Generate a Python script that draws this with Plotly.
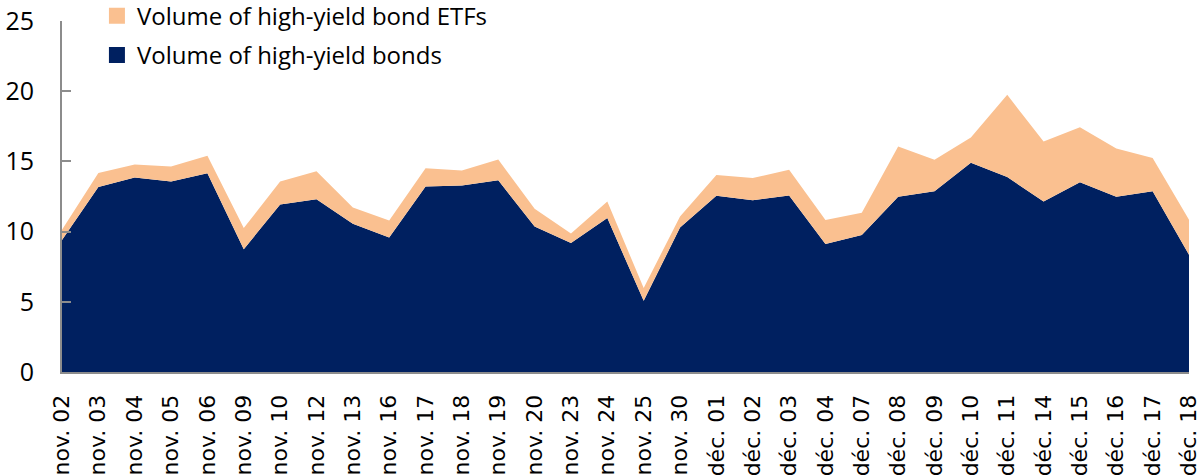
import plotly.graph_objects as go

dates = ["nov. 02", "nov. 03", "nov. 04", "nov. 05", "nov. 06", "nov. 09", "nov. 10", "nov. 12",
         "nov. 13", "nov. 16", "nov. 17", "nov. 18", "nov. 19", "nov. 20", "nov. 23", "nov. 24",
         "nov. 25", "nov. 30", "déc. 01", "déc. 02", "déc. 03", "déc. 04", "déc. 07", "déc. 08",
         "déc. 09", "déc. 10", "déc. 11", "déc. 14", "déc. 15", "déc. 16", "déc. 17", "déc. 18"]

# volumes
hy_bonds = [9.40, 13.17, 13.85, 13.57, 14.16, 8.75, 11.93, 12.31, 10.56, 9.58, 13.21, 13.28,
            13.66, 10.36, 9.18, 10.96, 5.07, 10.29, 12.55, 12.24, 12.57, 9.11, 9.75, 12.48,
            12.88, 14.90, 13.88, 12.14, 13.52, 12.48, 12.88, 8.35]
hy_etfs = [0.73, 1.01, 0.93, 1.07, 1.24, 1.50, 1.64, 1.99, 1.16, 1.21, 1.31, 1.07,
           1.47, 1.26, 0.69, 1.18, 0.91, 0.79, 1.49, 1.57, 1.83, 1.71, 1.59, 3.58,
           2.23, 1.80, 5.86, 4.27, 3.92, 3.44, 2.37, 2.49]

y_ticks = [0, 5, 10, 15, 20, 25]

navy = "#002060"
peach = "#FAC090"

fig = go.Figure()

fig.add_trace(go.Scatter(x=dates, y=hy_bonds, stackgroup="one", mode="none",
                         fillcolor=navy, line=dict(width=0), showlegend=False))
fig.add_trace(go.Scatter(x=dates, y=hy_etfs, stackgroup="one", mode="none",
                         fillcolor=peach, line=dict(width=0), showlegend=False))

# legend entries as square markers
fig.add_trace(go.Scatter(x=[None], y=[None], mode="markers", name="Volume of high-yield bond ETFs",
                         marker=dict(symbol="square", size=16, color=peach), legendgroup="a"))
fig.add_trace(go.Scatter(x=[None], y=[None], mode="markers", name="Volume of high-yield bonds",
                         marker=dict(symbol="square", size=16, color=navy), legendgroup="b"))

fig.update_layout(
    width=1201, height=475,
    margin=dict(l=62, r=12, t=21, b=103, autoexpand=False),
    paper_bgcolor="white", plot_bgcolor="white",
    showlegend=True,
    legend=dict(x=0.031, y=1.078, xanchor="left", yanchor="top",
                font=dict(family="Open Sans", size=24, color="black"),
                itemsizing="trace", tracegroupgap=5, bgcolor="rgba(0,0,0,0)"),
)

fig.update_xaxes(type="category", range=[0, len(dates) - 1], showgrid=False, automargin=False,
                 showline=True, linecolor="#8c8c8c", linewidth=2,
                 ticks="", tickangle=-90, ticklabelstandoff=12, ticklabeloverflow="allow",
                 tickfont=dict(family="DejaVu Sans", size=22, color="black"))
fig.update_yaxes(range=[0, 25], tickvals=y_ticks, showgrid=False, zeroline=False, automargin=False,
                 showline=True, linecolor="#8c8c8c", linewidth=2,
                 ticks="inside", ticklen=9, tickwidth=2, tickcolor="#8c8c8c",
                 ticklabelstandoff=21, ticklabeloverflow="allow",
                 tickfont=dict(family="Open Sans", size=25, color="black"))

# drop the default 8px body margin so the figure fills the window
fig.write_html("out.html", config={"displayModeBar": False},
               post_script="document.body.style.margin = '0';")
